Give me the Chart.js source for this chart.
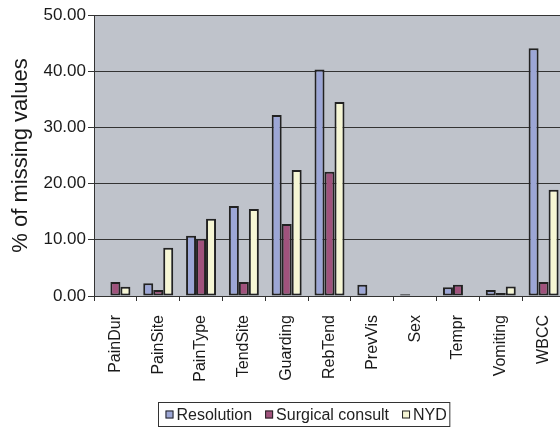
<!DOCTYPE html>
<html>
<head>
<meta charset="utf-8">
<script src="https://cdn.jsdelivr.net/npm/chart.js@4/dist/chart.umd.min.js"></script>
<style>
  html, body { margin: 0; padding: 0; overflow: hidden; background: #fff; }
  #wrap { position: relative; width: 560px; height: 427px; overflow: hidden; }
  canvas { display: block; }
</style>
</head>
<body>
<div id="wrap"><canvas id="c" width="600" height="427"></canvas></div>
<script>
// Share of missing values per predictor, by outcome group
const categories = ['PainDur', 'PainSite', 'PainType', 'TendSite', 'Guarding', 'RebTend',
                    'PrevVis', 'Sex', 'Tempr', 'Vomiting', 'WBCC'];
const seriesNames = ['Resolution', 'Surgical consult', 'NYD'];
const resolution  = [0,    2.25, 10.7, 16.0, 32.2, 40.3, 2.0, 0.3, 1.55, 1.05, 44.1];
const surgical    = [2.5,  1.05, 10.2, 2.5,  12.8, 22.1, 0,   0,   2.0,  0.55, 2.5];
const nyd         = [1.65, 8.6,  13.75, 15.5, 22.4, 34.5, 0,   0,   0,    1.7,  18.9];
const yTicks      = [0, 10, 20, 30, 40, 50];

const FONT = '"Liberation Sans", Arial, sans-serif';
const fills = ['#9ca6d6', '#a0527c', '#f6f6d4'];
const edge = '#222222';

// gray plot background
const plotBg = {
  id: 'plotBg',
  beforeDraw(chart) {
    const a = chart.chartArea, ctx = chart.ctx;
    ctx.save();
    ctx.fillStyle = '#bfc3cb';
    ctx.fillRect(a.left, a.top, a.right - a.left, a.bottom - a.top);
    ctx.restore();
  }
};

// boxed legend centred under the plot
const boxLegend = {
  id: 'boxLegend',
  afterDraw(chart) {
    const ctx = chart.ctx;
    const sets = chart.data.datasets;
    ctx.save();
    ctx.font = '16px ' + FONT;
    const mark = 8, markGap = 3, itemGap = 13, padL = 7, padR = 3;
    const widths = sets.map(d => mark + markGap + ctx.measureText(d.label).width);
    const total = padL + widths.reduce((s, w) => s + w, 0) + itemGap * (sets.length - 1) + padR;
    const cx = 303.5, top = 402, h = 24;
    const left = Math.round(cx - total / 2) + 0.5;
    ctx.strokeStyle = '#333';
    ctx.lineWidth = 1;
    ctx.strokeRect(left, top + 0.5, total, h);
    let x = left + padL;
    const mid = top + h / 2 + 0.5;
    sets.forEach((d, i) => {
      ctx.fillStyle = d.backgroundColor;
      ctx.fillRect(x, mid - mark / 2, mark, mark);
      ctx.strokeStyle = '#222';
      ctx.strokeRect(x + 0.5, mid - mark / 2 + 0.5, mark - 1, mark - 1);
      ctx.fillStyle = '#222';
      ctx.textBaseline = 'middle';
      ctx.fillText(d.label, x + mark + markGap, mid + 1);
      x += widths[i] + itemGap;
    });
    ctx.restore();
  }
};

const values = [resolution, surgical, nyd];
new Chart(document.getElementById('c'), {
  type: 'bar',
  data: {
    labels: categories,
    datasets: seriesNames.map((name, i) => ({
      label: name,
      data: values[i],
      backgroundColor: fills[i],
      borderColor: edge,
      borderWidth: 2,
      borderSkipped: false,
      categoryPercentage: 0.7,
      barPercentage: 1.0
    }))
  },
  options: {
    responsive: false,
    animation: false,
    layout: { padding: { left: 0, right: 35, top: 15, bottom: 0 } },
    plugins: { legend: { display: false }, tooltip: { enabled: false } },
    scales: {
      x: {
        grid: { display: true, drawOnChartArea: false, drawTicks: true, tickLength: 5,
                color: '#333', offset: true },
        border: { display: true, color: '#333', width: 1 },
        ticks: {
          autoSkip: false, minRotation: 90, maxRotation: 90, padding: 14,
          color: '#1a1a1a', font: { family: FONT, size: 16 }
        },
        afterFit(scale) { scale.height = 131; }
      },
      y: {
        min: 0, max: 50,
        afterBuildTicks(scale) { scale.ticks = yTicks.map(v => ({ value: v })); },
        grid: { color: '#333', lineWidth: 1, tickLength: 6 },
        border: { display: true, color: '#333', width: 1 },
        ticks: {
          padding: 2, color: '#1a1a1a', font: { family: FONT, size: 17 },
          callback: v => Number(v).toFixed(2)
        },
        title: {
          display: true, text: '% of missing values', color: '#1a1a1a',
          font: { family: FONT, size: 22 }, padding: { top: 8, bottom: 0 }
        },
        afterFit(scale) { scale.width = 94; }
      }
    }
  },
  plugins: [plotBg, boxLegend]
});
</script>
</body>
</html>
